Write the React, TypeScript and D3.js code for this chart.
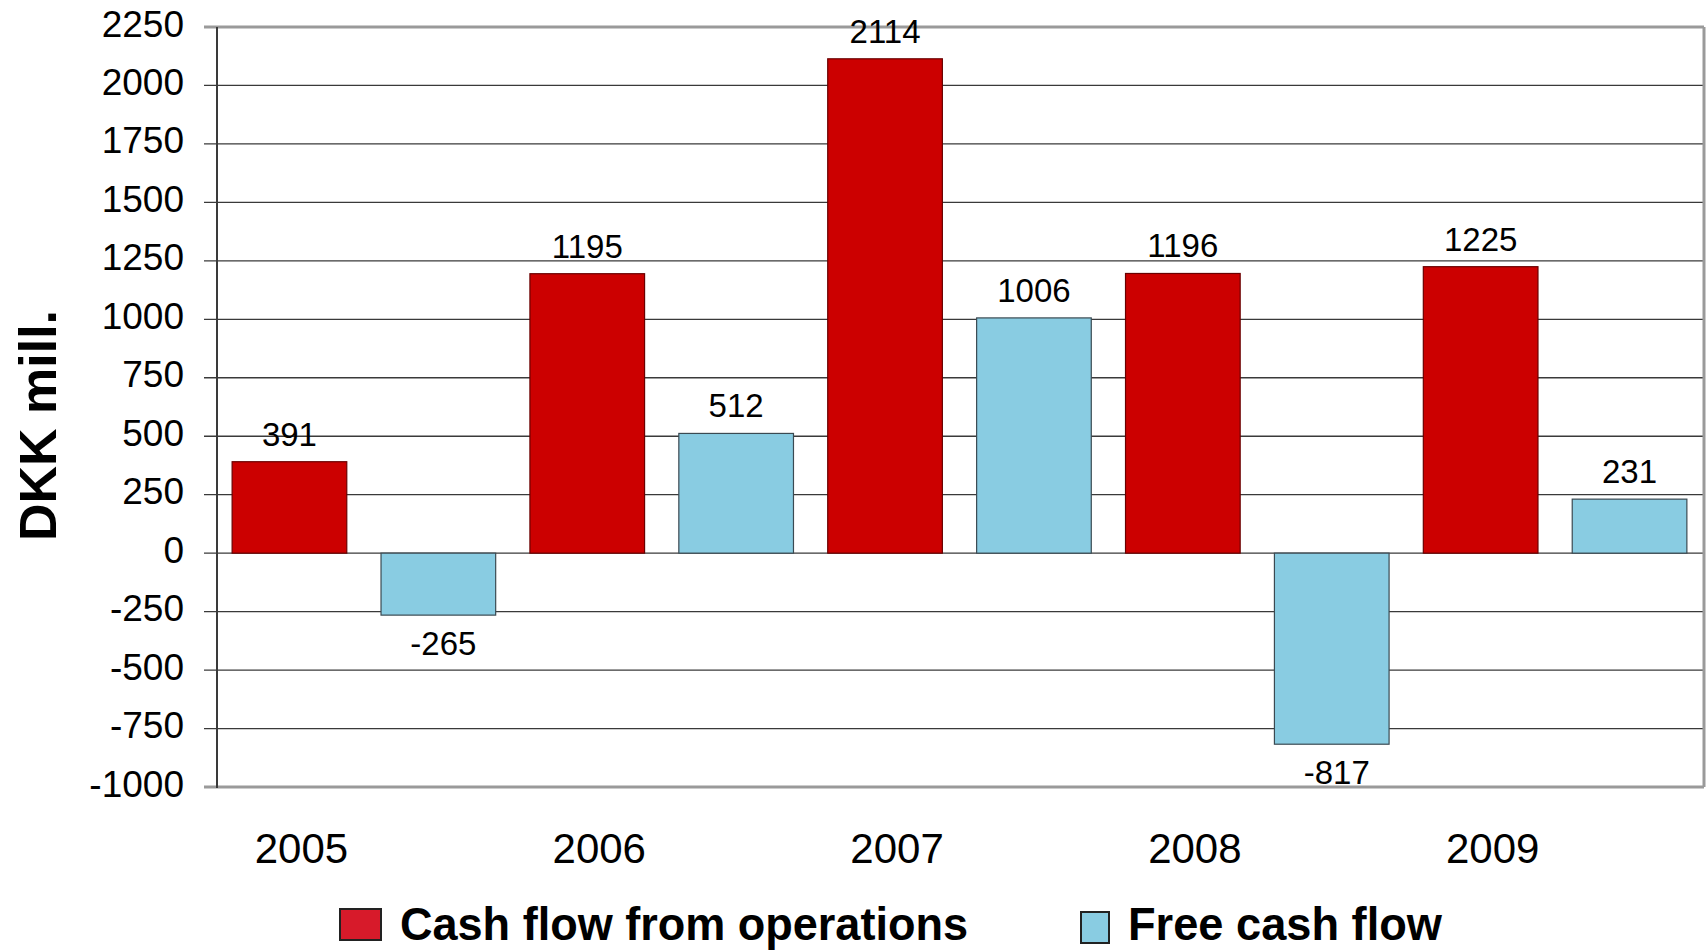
import React from "react";
import * as d3 from "d3";

const years = ["2005", "2006", "2007", "2008", "2009"];
const seriesKeys = ["ops", "free"];
const seriesNames = ["Cash flow from operations", "Free cash flow"];
const cashFlowOps = [391, 1195, 2114, 1196, 1225];
const freeCashFlow = [-265, 512, 1006, -817, 231];
const yTicks = [-1000, -750, -500, -250, 0, 250, 500, 750, 1000, 1250, 1500, 1750, 2000, 2250];
const yTitle = "DKK mill.";

const W = 1706;
const H = 950;
const left = 217;
const right = 1704;
const top = 27;
const bottom = 787;
const FONT = "'Liberation Sans', Arial, Helvetica, sans-serif";

const barFill: Record<string, string> = { ops: "#CC0000", free: "#89CCE2" };
const barStroke: Record<string, string> = { ops: "#6a0000", free: "#3b4a52" };
const legendFill: Record<string, string> = { ops: "#D71A2A", free: "#89CCE2" };

export default function App() {
  const y = d3.scaleLinear().domain([-1000, 2250]).range([bottom, top]);
  const x0 = d3.scaleBand<string>().domain(years).range([left - 2, right]).paddingInner(0).paddingOuter(0);
  const x1 = d3
    .scaleBand<string>()
    .domain(seriesKeys)
    .range([0, x0.bandwidth()])
    .paddingInner(0.23)
    .paddingOuter(0.115);

  const rows = years.map((yr, i) => ({
    year: yr,
    values: [
      { key: "ops", value: cashFlowOps[i] },
      { key: "free", value: freeCashFlow[i] },
    ],
  }));

  return (
    <svg
      width={W}
      height={H}
      style={{ position: "absolute", left: 0, top: 0, background: "#fff" }}
      fontFamily={FONT}
    >
      <rect x={0} y={0} width={W} height={H} fill="#fff" />
      {/* gridlines and tick marks */}
      {yTicks.map((t) =>
        t === 2250 || t === -1000 ? null : (
          <line key={"g" + t} x1={left - 13} x2={right} y1={y(t)} y2={y(t)} stroke="#3a3a3a" strokeWidth={1.3} />
        )
      )}
      {/* frame */}
      <line x1={left - 13} x2={right} y1={top} y2={top} stroke="#9a9a9a" strokeWidth={3} />
      <line x1={left - 13} x2={right} y1={bottom} y2={bottom} stroke="#9a9a9a" strokeWidth={3} />
      <line x1={right} x2={right} y1={top} y2={bottom} stroke="#9a9a9a" strokeWidth={3} />
      <line x1={left} x2={left} y1={top} y2={bottom + 1} stroke="#3a3a3a" strokeWidth={2} />

      {/* y tick labels */}
      {yTicks.map((t) => (
        <text key={"t" + t} x={184} y={y(t) + 9.5} textAnchor="end" fontSize={37} fill="#000">
          {t}
        </text>
      ))}

      {/* bars */}
      {rows.map((r) =>
        r.values.map((v) => {
          const bx = (x0(r.year) as number) + (x1(v.key) as number);
          const y0 = y(0);
          const yv = y(v.value);
          return (
            <rect
              key={r.year + v.key}
              x={bx}
              y={Math.min(y0, yv)}
              width={x1.bandwidth()}
              height={Math.abs(yv - y0)}
              fill={barFill[v.key]}
              stroke={barStroke[v.key]}
              strokeWidth={1.2}
            />
          );
        })
      )}

      {/* value labels */}
      {rows.map((r) =>
        r.values.map((v) => {
          const cx = (x0(r.year) as number) + (x1(v.key) as number) + x1.bandwidth() / 2;
          const ly = v.value >= 0 ? y(v.value) - 16 : y(v.value) + 40;
          return (
            <text key={"l" + r.year + v.key} x={v.value < 0 ? cx + 5 : cx} y={ly} textAnchor="middle" fontSize={33} fill="#000">
              {v.value}
            </text>
          );
        })
      )}

      {/* year labels */}
      {years.map((yr) => (
        <text
          key={"y" + yr}
          x={(x0(yr) as number) + (x1("ops") as number) + x1.bandwidth() / 2 + 12}
          y={863}
          textAnchor="middle"
          fontSize={42}
          fill="#000"
        >
          {yr}
        </text>
      ))}

      {/* y axis title */}
      <text
        transform={`translate(56,425.5) rotate(-90)`}
        textAnchor="middle"
        fontSize={52}
        fontWeight="bold"
        fill="#000"
      >
        {yTitle}
      </text>

      {/* legend */}
      <rect x={340} y={909} width={41} height={31} fill={legendFill.ops} stroke="#222" strokeWidth={2} />
      <text x={400} y={940} fontSize={46} fontWeight="bold" fill="#000" textLength={568} lengthAdjust="spacingAndGlyphs">
        {seriesNames[0]}
      </text>
      <rect x={1081} y={912} width={28} height={31} fill={legendFill.free} stroke="#222" strokeWidth={2} />
      <text x={1128} y={940} fontSize={46} fontWeight="bold" fill="#000" textLength={314} lengthAdjust="spacingAndGlyphs">
        {seriesNames[1]}
      </text>
    </svg>
  );
}
